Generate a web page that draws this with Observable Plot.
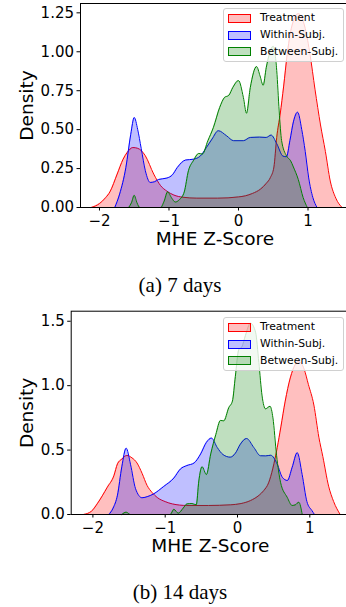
<!DOCTYPE html>
<html><head><meta charset="utf-8">
<script src="https://cdn.jsdelivr.net/npm/d3@7"></script>
<script src="https://cdn.jsdelivr.net/npm/@observablehq/plot@0.6"></script>
<style>
html,body{margin:0;padding:0;width:346px;height:607px;overflow:hidden;background:#fff;}
#page{position:relative;width:346px;height:607px;overflow:hidden;}
.cap{position:absolute;left:0;width:360px;text-align:center;font-family:"Liberation Serif","Times New Roman",serif;font-size:21px;line-height:21px;color:#000;}
.legend{position:absolute;left:223px;width:121px;height:54px;box-sizing:border-box;border:1px solid #d0d0d0;border-radius:3px;background:rgba(255,255,255,0.8);font-family:"DejaVu Sans";font-size:10.8px;color:#000;}
.row{position:absolute;left:0;height:12px;line-height:12px;width:118px;}
.sw{position:absolute;left:4px;width:23px;height:9px;top:1.5px;box-sizing:border-box;border:1px solid;}
.lab{position:absolute;left:36px;top:0;white-space:nowrap;}
</style>
</head><body>
<div id="page"></div>
<script>
// ---------- data: 7 days ----------
const t7X = [-2.12,-2.00,-1.91,-1.85,-1.745,-1.66,-1.60,-1.52,-1.45,-1.34,-1.22,-1.12,-1.03,-0.93,-0.80,-0.60,-0.30,0.00,0.10,0.20,0.317,0.40,0.46,0.51,0.55,0.60,0.65,0.70,0.76,0.86,0.96,1.03,1.10,1.18,1.25,1.32,1.40,1.49];
const t7Y = [0,0.025,0.064,0.10,0.215,0.31,0.354,0.385,0.38,0.332,0.215,0.14,0.105,0.08,0.066,0.06,0.06,0.068,0.075,0.09,0.118,0.155,0.193,0.26,0.45,0.60,0.78,0.98,1.15,1.245,1.15,0.98,0.76,0.53,0.36,0.17,0.06,0];
const w7X = [-1.78,-1.71,-1.62,-1.55,-1.50,-1.45,-1.40,-1.34,-1.27,-1.21,-1.15,-1.03,-0.95,-0.88,-0.76,-0.65,-0.55,-0.46,-0.38,-0.29,-0.17,-0.07,0.07,0.17,0.30,0.40,0.47,0.55,0.64,0.69,0.74,0.79,0.85,0.91,0.96,1.01,1.07,1.13];
const w7Y = [0,0.086,0.257,0.47,0.578,0.50,0.38,0.236,0.161,0.165,0.18,0.189,0.21,0.257,0.305,0.31,0.33,0.386,0.44,0.493,0.46,0.429,0.429,0.45,0.452,0.45,0.465,0.41,0.33,0.326,0.43,0.55,0.612,0.50,0.36,0.19,0.064,0];
const b7X = [-1.58,-1.54,-1.50,-1.46,-1.42,-1.12,-1.07,-1.02,-0.96,-0.91,-0.85,-0.78,-0.72,-0.65,-0.57,-0.52,-0.44,-0.36,-0.27,-0.20,-0.14,-0.08,0.00,0.07,0.115,0.17,0.26,0.31,0.355,0.40,0.50,0.55,0.585,0.62,0.69,0.75,0.79,0.86,0.93,0.99];
const b7Y = [0,0.03,0.078,0.03,0,0,0.04,0.10,0.06,0.035,0.05,0.10,0.236,0.30,0.347,0.343,0.429,0.515,0.643,0.707,0.72,0.772,0.815,0.707,0.605,0.77,0.905,0.845,0.785,0.90,1.035,0.88,0.62,0.43,0.332,0.30,0.26,0.18,0.064,0];
// ---------- data: 14 days ----------
const t14X = [-2.13,-2.02,-1.94,-1.80,-1.71,-1.66,-1.60,-1.53,-1.46,-1.39,-1.32,-1.25,-1.18,-1.11,-1.00,-0.90,-0.70,-0.40,-0.10,0.05,0.18,0.30,0.364,0.43,0.49,0.55,0.60,0.66,0.73,0.80,0.85,0.92,0.98,1.056,1.125,1.18,1.26,1.33,1.42];
const t14Y = [0,0.025,0.083,0.212,0.30,0.393,0.43,0.458,0.44,0.40,0.32,0.225,0.17,0.132,0.10,0.082,0.07,0.07,0.075,0.085,0.108,0.15,0.186,0.245,0.36,0.52,0.68,0.88,1.06,1.165,1.19,1.13,1.01,0.85,0.60,0.45,0.22,0.10,0];
const w14X = [-1.78,-1.72,-1.66,-1.60,-1.54,-1.48,-1.41,-1.32,-1.24,-1.16,-1.02,-0.88,-0.79,-0.70,-0.60,-0.51,-0.43,-0.36,-0.28,-0.20,-0.10,-0.03,0.04,0.125,0.226,0.318,0.39,0.46,0.55,0.62,0.69,0.756,0.826,0.894,0.96,1.03,1.065];
const w14Y = [0,0.05,0.15,0.37,0.515,0.39,0.20,0.13,0.14,0.16,0.218,0.283,0.353,0.38,0.40,0.47,0.56,0.593,0.52,0.465,0.445,0.475,0.546,0.59,0.52,0.456,0.455,0.46,0.39,0.289,0.264,0.366,0.48,0.31,0.10,0.03,0];
const b14X = [-1.60,-1.54,-1.48,-0.93,-0.88,-0.82,-0.75,-0.70,-0.63,-0.57,-0.535,-0.49,-0.43,-0.37,-0.30,-0.235,-0.19,-0.12,-0.07,-0.03,0.018,0.06,0.11,0.18,0.25,0.295,0.34,0.387,0.45,0.49,0.54,0.595,0.687,0.756,0.80,0.848,0.895];
const b14Y = [0,0.018,0,0,0.04,0.01,0.05,0.082,0.085,0.075,0.26,0.371,0.31,0.47,0.62,0.73,0.727,0.83,0.88,1.07,1.28,1.30,1.39,1.485,1.415,1.18,0.92,0.82,0.84,0.75,0.46,0.25,0.134,0.07,0.075,0.095,0];

const seriesNames = ["Treatment","Within-Subj.","Between-Subj."];
const seriesColors = ["red","blue","green"];
const xTicks = [-2,-1,0,1];
const yTicks7 = [0,0.25,0.5,0.75,1.0,1.25];
const yTicks14 = [0,0.5,1.0,1.5];
const captions = ["(a) 7 days","(b) 14 days"];
const xLabel = "MHE Z-Score";
const yLabel = "Density";

const rows = (xs, ys) => xs.map((x,i) => ({x, y: ys[i]}));

function chart(o){
  const marks = [];
  o.series.forEach((s,i) => {
    const c = seriesColors[i];
    marks.push(Plot.areaY(s, {x:"x", y:"y", fill:c, fillOpacity:0.25, curve:"monotone-x"}));
    marks.push(Plot.lineY(s, {x:"x", y:"y", stroke:c, strokeWidth:1, curve:"monotone-x"}));
  });
  marks.push(Plot.frame({stroke:"black", strokeWidth:1}));
  marks.push(Plot.axisX({ticks:xTicks, tickSize:3.5, tickPadding:4, tickFormat:d => (d<0?"\u2212":"")+Math.abs(d), label:null}));
  marks.push(Plot.axisY({ticks:o.yTicks, tickSize:3.5, tickPadding:3, tickFormat:d => d.toFixed(o.dec), label:null}));
  marks.push(Plot.text([xLabel], {text:d=>d, frameAnchor:"bottom", textAnchor:"middle", lineAnchor:"middle", dy:o.xlDy, fontSize:18.5}));
  marks.push(Plot.text([yLabel], {text:d=>d, frameAnchor:"left", textAnchor:"middle", lineAnchor:"middle", dx:27 - o.ml, rotate:-90, fontSize:18.5}));
  return Plot.plot({
    width:352, height:255,
    marginTop:o.mt, marginBottom:o.mb, marginLeft:o.ml, marginRight:3,
    style:{fontFamily:"DejaVu Sans", fontSize:"15px", color:"black", background:"transparent", overflow:"visible", maxWidth:"none"},
    x:{domain:o.xd},
    y:{domain:o.yd},
    marks
  });
}

function legend(top){
  const d = document.createElement("div");
  d.className = "legend";
  d.style.top = top + "px";
  const tops = [3.8, 20.5, 37.3];
  seriesNames.forEach((n,i) => {
    const r = document.createElement("div");
    r.className = "row"; r.style.top = tops[i] + "px";
    const sw = document.createElement("div");
    sw.className = "sw";
    sw.style.borderColor = seriesColors[i];
    sw.style.background = d3.color(seriesColors[i]).copy({opacity:0.25}).formatRgb();
    const lab = document.createElement("div");
    lab.className = "lab"; lab.textContent = n;
    r.appendChild(sw); r.appendChild(lab); d.appendChild(r);
  });
  return d;
}

const page = document.getElementById("page");
const cfgs = [
  {top:0, mt:3, mb:48, ml:80, xd:[-2.273,1.597], yd:[0,1.31], yTicks:yTicks7, dec:2, xlDy:31.5,
   series:[rows(t7X,t7Y), rows(w7X,w7Y), rows(b7X,b7Y)], legTop:7.5, capTop:274.5},
  {top:300, mt:10.7, mb:41, ml:70.7, xd:[-2.30,1.549], yd:[0,1.578], yTicks:yTicks14, dec:1, xlDy:31.8,
   series:[rows(t14X,t14Y), rows(w14X,w14Y), rows(b14X,b14Y)], legTop:316.7, capTop:582}
];
cfgs.forEach((c,k) => {
  const svg = chart(c);
  svg.style.position = "absolute";
  svg.style.top = c.top + "px";
  svg.style.left = "0px";
  svg.style.maxWidth = "none";
  svg.setAttribute("width", 352);
  svg.setAttribute("height", 255);
  svg.style.width = "352px";
  svg.style.height = "255px";
  page.appendChild(svg);
  page.appendChild(legend(c.legTop));
  const cap = document.createElement("div");
  cap.className = "cap"; cap.style.top = c.capTop + "px";
  cap.textContent = captions[k];
  page.appendChild(cap);
});
</script>
</body></html>
